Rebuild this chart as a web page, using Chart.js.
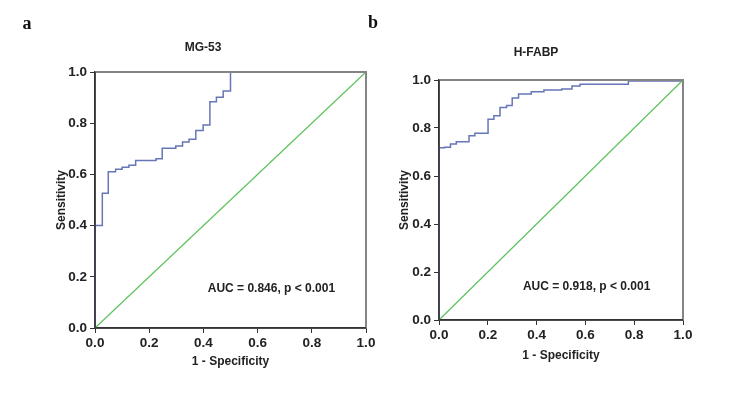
<!DOCTYPE html>
<html>
<head>
<meta charset="utf-8">
<script src="https://cdn.jsdelivr.net/npm/chart.js@4.4.1/dist/chart.umd.min.js"></script>
<style>
  body { margin: 0; background: #fff; }
  #wrap { position: relative; width: 750px; height: 403px; overflow: hidden; }
  .box { position: absolute; top: 0; height: 403px; }
  .lbl { position: absolute; font: bold 18px "Liberation Serif", serif; color: #111; line-height: 1; transform: translate(-50%, -50%); }
  .ttl { position: absolute; font: bold 12px "Liberation Sans", Arial, sans-serif; color: #222; line-height: 1; transform: translate(-50%, -50%); white-space: nowrap; }
</style>
</head>
<body>
<div id="wrap">
  <div class="box" style="left:0;width:380px"><canvas id="chartA" width="380" height="403"></canvas></div>
  <div class="box" style="left:380px;width:370px"><canvas id="chartB" width="370" height="403"></canvas></div>
  <div class="lbl" style="left:27px;top:23px">a</div>
  <div class="lbl" style="left:373px;top:22px">b</div>
  <div class="ttl" style="left:203px;top:47px">MG-53</div>
  <div class="ttl" style="left:536px;top:52px">H-FABP</div>
</div>
<script>
// ROC curve MG-53 (1 - specificity, sensitivity)
const mgFpr = [0, 0, 0.027, 0.049, 0.076, 0.100, 0.125, 0.150, 0.225, 0.248, 0.298, 0.323, 0.347, 0.372, 0.399, 0.424, 0.448, 0.473, 0.500, 1.0];
const mgTpr = [0, 0.40, 0.526, 0.610, 0.620, 0.628, 0.636, 0.654, 0.661, 0.702, 0.711, 0.727, 0.737, 0.771, 0.793, 0.884, 0.901, 0.926, 1.0, 1.0];

// ROC curve H-FABP
const hfFpr = [0, 0, 0.023, 0.047, 0.071, 0.123, 0.147, 0.201, 0.225, 0.250, 0.277, 0.300, 0.326, 0.378, 0.430, 0.503, 0.545, 0.578, 0.776, 1.0];
const hfTpr = [0, 0.718, 0.720, 0.733, 0.743, 0.768, 0.778, 0.836, 0.851, 0.885, 0.894, 0.925, 0.942, 0.951, 0.958, 0.962, 0.975, 0.982, 0.996, 1.0];

// reference diagonal
const refX = [0, 1];
const refY = [0, 1];

const axisTicks = [0, 0.2, 0.4, 0.6, 0.8, 1.0];

const textColor = "#222";
const fontFamily = '"Liberation Sans", Arial, sans-serif';

const toPoints = (xs, ys) => xs.map((x, i) => ({ x: x, y: ys[i] }));

// gray frame on top/right, dark axes redrawn over the curve, AUC text
const framePlugin = {
  id: "frame",
  afterDatasetsDraw(chart, args, opts) {
    const { ctx, chartArea: a, scales } = chart;
    ctx.save();
    ctx.strokeStyle = "#858585";
    ctx.lineWidth = 2;
    ctx.beginPath();
    ctx.moveTo(a.left, a.top);
    ctx.lineTo(a.right, a.top);
    ctx.lineTo(a.right, a.bottom);
    ctx.stroke();
    ctx.strokeStyle = "#333";
    ctx.lineWidth = 1.5;
    ctx.beginPath();
    ctx.moveTo(a.left, a.top);
    ctx.lineTo(a.left, a.bottom);
    ctx.lineTo(a.right, a.bottom);
    ctx.stroke();
    ctx.font = "bold 12px " + fontFamily;
    ctx.fillStyle = textColor;
    ctx.textBaseline = "middle";
    ctx.fillText(opts.text, scales.x.getPixelForValue(opts.x), scales.y.getPixelForValue(opts.y));
    ctx.restore();
  },
};

function drawRoc(id, xs, ys, g) {
  const ctx = document.getElementById(id).getContext("2d");
  return new Chart(ctx, {
    type: "scatter",
    data: {
      datasets: [
        {
          data: toPoints(refX, refY),
          showLine: true,
          borderColor: "#5cc25c",
          borderWidth: 1.2,
          pointRadius: 0,
          clip: 4,
        },
        {
          data: toPoints(xs, ys),
          showLine: true,
          stepped: "before",
          borderColor: "#6676b8",
          borderWidth: 1.5,
          pointRadius: 0,
          clip: 4,
        },
      ],
    },
    options: {
      responsive: false,
      animation: false,
      layout: { padding: { top: g.top, right: g.right, left: 0, bottom: 0 } },
      plugins: {
        legend: { display: false },
        tooltip: { enabled: false },
        frame: { text: g.auc, x: g.aucX, y: g.aucY },
      },
      scales: {
        x: {
          type: "linear",
          min: 0,
          max: 1,
          afterBuildTicks: (s) => { s.ticks = axisTicks.map((v) => ({ value: v })); },
          afterFit: (s) => { s.height = g.xH; },
          ticks: {
            color: textColor,
            font: { family: fontFamily, size: 13.5, weight: "bold" },
            padding: 2,
            callback: (v) => v.toFixed(1),
          },
          grid: { drawOnChartArea: false, tickLength: 5, color: "#333" },
          border: { color: "#333", width: 1.5 },
          title: {
            display: true,
            text: "1 - Specificity",
            color: textColor,
            font: { family: fontFamily, size: 12, weight: "bold" },
            padding: { top: 0, bottom: g.xPad },
          },
        },
        y: {
          type: "linear",
          min: 0,
          max: 1,
          afterBuildTicks: (s) => { s.ticks = axisTicks.map((v) => ({ value: v })); },
          afterFit: (s) => { s.width = g.yW; },
          ticks: {
            color: textColor,
            font: { family: fontFamily, size: 13.5, weight: "bold" },
            padding: 3,
            callback: (v) => v.toFixed(1),
          },
          grid: { drawOnChartArea: false, tickLength: 5, color: "#333" },
          border: { color: "#333", width: 1.5 },
          title: {
            display: true,
            text: "Sensitivity",
            color: textColor,
            font: { family: fontFamily, size: 12, weight: "bold" },
            padding: { top: g.yPad, bottom: 0 },
          },
        },
      },
    },
    plugins: [framePlugin],
  });
}

drawRoc("chartA", mgFpr, mgTpr, {
  top: 72, right: 14, xH: 75, yW: 95, xPad: 34, yPad: 54,
  auc: "AUC = 0.846, p < 0.001", aucX: 0.416, aucY: 0.152,
});
drawRoc("chartB", hfFpr, hfTpr, {
  top: 80, right: 67, xH: 83, yW: 59, xPad: 40, yPad: 17,
  auc: "AUC = 0.918, p < 0.001", aucX: 0.344, aucY: 0.139,
});
</script>
</body>
</html>
